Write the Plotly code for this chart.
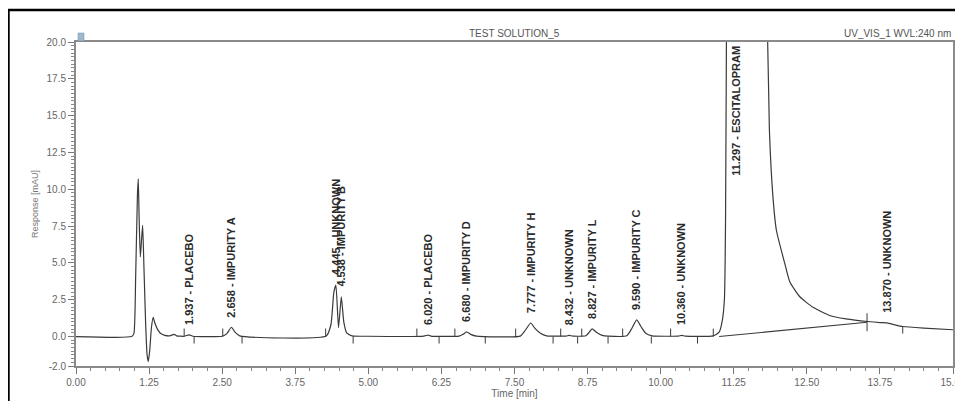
import plotly.graph_objects as go

# ---- chromatogram trace ----
time_min = [0.00, 0.95, 0.99, 1.02, 1.05, 1.065, 1.08, 1.10, 1.12, 1.14, 1.16, 1.19, 1.215, 1.236,
            1.26, 1.29, 1.32, 1.35, 1.40, 1.45, 1.52, 1.60, 1.68, 1.72, 1.85, 1.937, 2.00, 2.50,
            2.58, 2.658, 2.72, 2.80, 4.28, 4.36, 4.41, 4.445, 4.49, 4.538, 4.58, 4.63, 4.72, 5.00,
            5.95, 6.02, 6.07, 6.55, 6.62, 6.68, 6.75, 6.85, 7.60, 7.68, 7.777, 7.85, 7.95, 8.05,
            8.38, 8.432, 8.50, 8.72, 8.78, 8.827, 8.90, 9.00, 9.10, 9.42, 9.50, 9.59, 9.66, 9.75,
            9.85, 10.30, 10.36, 10.42, 10.90, 11.00, 11.05, 11.09, 11.11, 11.13, 11.20, 11.35, 11.60,
            11.75, 11.83, 11.86, 11.92, 11.98, 12.12, 12.21, 12.38, 12.60, 12.89, 13.17, 13.54,
            13.75, 13.87, 14.00, 14.14, 14.50, 15.00]
response_mau = [0.00, 0.00, 0.20, 4.00, 9.50, 10.70, 8.00, 5.40, 6.50, 7.55, 5.00, 1.00, -1.20, -1.70,
                -1.00, 0.60, 1.30, 0.90, 0.45, 0.20, 0.08, 0.05, 0.15, 0.05, 0.02, 0.12, 0.02, 0.02,
                0.20, 0.63, 0.30, 0.05, 0.03, 0.80, 3.00, 3.50, 0.60, 2.70, 1.00, 0.25, 0.05, 0.02,
                0.03, 0.10, 0.03, 0.03, 0.15, 0.32, 0.15, 0.03, 0.03, 0.40, 0.92, 0.55, 0.20, 0.05,
                0.03, 0.08, 0.03, 0.05, 0.30, 0.52, 0.30, 0.08, 0.03, 0.05, 0.50, 1.13, 0.70, 0.20,
                0.05, 0.03, 0.08, 0.03, 0.05, 0.30, 1.00, 2.50, 8.00, 25.0, 80.0, 150.0, 45.0,
                26.0, 20.0, 14.0, 9.50, 7.20, 5.00, 3.70, 2.70, 2.00, 1.43, 1.20, 1.02,
                0.95, 0.93, 0.80, 0.68, 0.57, 0.46]

# integration baseline under the main peak
base_t = [11.00, 13.53]
base_v = [0.00, 0.97]

# ---- peak table ----
peak_rt = [1.937, 2.658, 4.445, 4.538, 6.020, 6.680, 7.777, 8.432, 8.827, 9.590, 10.360, 11.297, 13.870]
peak_name = ["PLACEBO", "IMPURITY A", "UNKNOWN", "IMPURITY B", "PLACEBO", "IMPURITY D",
             "IMPURITY H", "UNKNOWN", "IMPURITY L", "IMPURITY C", "UNKNOWN", "ESCITALOPRAM", "UNKNOWN"]
peak_apex = [0.12, 0.63, 3.50, 2.70, 0.10, 0.32, 0.92, 0.08, 0.52, 1.13, 0.08, 10.2, 0.93]

# peak start / end delimiters (time, baseline value)
start_t = [1.85, 2.51, 4.27, 5.83, 6.48, 7.52, 8.29, 8.65, 9.35, 10.17, 10.90]
start_v = [0, 0, 0, 0, 0, 0, 0, 0, 0, 0, 0]
end_t = [2.02, 2.84, 4.74, 6.21, 7.00, 8.16, 8.58, 9.10, 9.84, 10.63, 14.14]
end_v = [0, 0, 0, 0, 0, 0, 0, 0, 0, 0, 0.68]
split_t = [13.53]
split_v = [0.97]

x_ticks = [0, 1.25, 2.5, 3.75, 5, 6.25, 7.5, 8.75, 10, 11.25, 12.5, 13.75, 15]
x_ticktext = ["0.00", "1.25", "2.50", "3.75", "5.00", "6.25", "7.50", "8.75", "10.00", "11.25",
              "12.50", "13.75", "15.00"]
y_ticks = [-2.0, 0.0, 2.5, 5.0, 7.5, 10.0, 12.5, 15.0, 17.5, 20.0]
y_ticktext = ["-2.0", "0.0", "2.5", "5.0", "7.5", "10.0", "12.5", "15.0", "17.5", "20.0"]

FONT = "Arial, Liberation Sans, sans-serif"
LINE = "#3a3a3a"

fig = go.Figure()
fig.add_trace(go.Scatter(x=time_min, y=response_mau, mode="lines",
                         line=dict(color=LINE, width=1.2, shape="spline", smoothing=0.5),
                         hoverinfo="skip"))
fig.add_trace(go.Scatter(x=base_t, y=base_v, mode="lines",
                         line=dict(color=LINE, width=1.1), hoverinfo="skip"))

shapes = []
for t, v in zip(start_t, start_v):
    shapes.append(dict(type="line", xref="x", yref="y", ysizemode="pixel", yanchor=v,
                       x0=t, x1=t, y0=0, y1=8, line=dict(color=LINE, width=1)))
for t, v in zip(end_t, end_v):
    shapes.append(dict(type="line", xref="x", yref="y", ysizemode="pixel", yanchor=v,
                       x0=t, x1=t, y0=-7, y1=0, line=dict(color=LINE, width=1)))
for t, v in zip(split_t, split_v):
    shapes.append(dict(type="line", xref="x", yref="y", ysizemode="pixel", yanchor=v,
                       x0=t, x1=t, y0=-9, y1=9, line=dict(color=LINE, width=1)))

# outer black frame (figure is offset 8px by the page margin)
shapes.append(dict(type="rect", xref="paper", yref="paper", x0=-0.077, x1=1.03, y0=-0.2, y1=1.099,
                   line=dict(color="black", width=2.5), layer="below"))
# small icon at top-left
shapes.append(dict(type="rect", xref="paper", yref="paper", xsizemode="pixel", ysizemode="pixel",
                   xanchor=0, yanchor=1, x0=2, x1=8, y0=1, y1=9,
                   fillcolor="#9fb8cc", line=dict(color="#7a8fa0", width=0.5)))

annotations = []
for rt, name, apex in zip(peak_rt, peak_name, peak_apex):
    annotations.append(dict(x=rt, y=apex, xref="x", yref="y", text=f"<b>{rt:.3f} - {name}</b>",
                            textangle=-90, showarrow=False, xanchor="center", yanchor="bottom",
                            yshift=8, font=dict(family=FONT, size=11, color="#2a2a2a")))
annotations.append(dict(x=0.5, y=1.0, xref="paper", yref="paper", text="TEST SOLUTION_5",
                        showarrow=False, xanchor="center", yanchor="bottom", yshift=1,
                        font=dict(family=FONT, size=10, color="#555555")))
annotations.append(dict(x=1.0, y=1.0, xref="paper", yref="paper", text="UV_VIS_1 WVL:240 nm",
                        showarrow=False, xanchor="right", yanchor="bottom", yshift=1,
                        font=dict(family=FONT, size=10, color="#555555")))

axis_common = dict(showline=True, linecolor="#8a8a8a", linewidth=2, mirror=True,
                   showgrid=False, zeroline=False, ticks="outside", ticklen=6,
                   tickcolor="#777777", tickwidth=1, automargin=False,
                   ticklabeloverflow="allow",
                   tickfont=dict(family=FONT, size=10, color="#666666"))

fig.update_layout(
    width=955, height=393,
    margin=dict(l=68, r=10, t=34, b=35),
    paper_bgcolor="white", plot_bgcolor="white",
    showlegend=False,
    shapes=shapes, annotations=annotations,
    xaxis=dict(range=[0, 15], tickvals=x_ticks, ticktext=x_ticktext,
               title=dict(text="Time [min]", standoff=2,
                          font=dict(family=FONT, size=10, color="#666666")),
               minor=dict(dtick=0.25, tick0=0, ticks="outside", ticklen=3, tickcolor="#888888"),
               **axis_common),
    yaxis=dict(range=[-2, 20], tickvals=y_ticks, ticktext=y_ticktext,
               title=dict(text="Response [mAU]", standoff=6,
                          font=dict(family=FONT, size=9, color="#777777")),
               minor=dict(dtick=0.25, tick0=0, ticks="outside", ticklen=3, tickcolor="#888888"),
               **axis_common),
)

fig.write_html("out.html")
